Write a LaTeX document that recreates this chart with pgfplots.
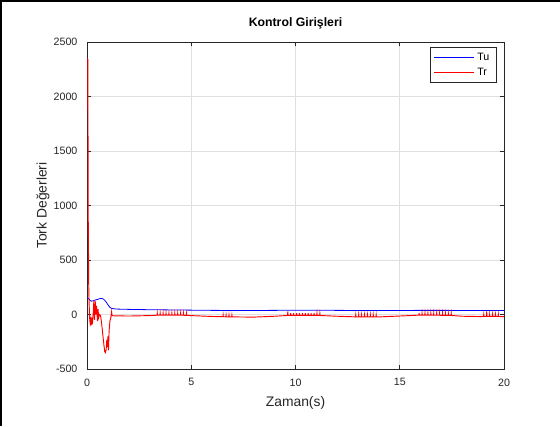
\documentclass[border=0pt]{standalone}
\usepackage{pgfplots}
\pgfplotsset{compat=1.18}
\pgfplotsset{legend image code/.code={\draw[mark repeat=2,mark phase=2,#1] (0pt,0pt) -- (30pt,0pt);}}
\usepackage{fontspec}
\setmainfont{Liberation Sans}
\definecolor{axgray}{HTML}{262626}
\definecolor{gridgray}{HTML}{DFDFDF}
\pgfplotsset{
  commonaxis/.style={at={(65.25pt,42.75pt)}, anchor=south west, scale only axis,
    width=312.75pt, height=245.25pt,
    xmin=0, xmax=20, ymin=-500, ymax=2500},
  commonlegend/.style={at={(0.983,0.8746)}, anchor=south east, line width=0.4pt,
    font=\fontsize{8}{9.6}\selectfont, inner xsep=3pt, inner ysep=2pt, row sep=0.5pt},
}
\begin{document}
\begin{tikzpicture}[x=1pt,y=1pt]
\path[use as bounding box, fill=white] (0,0) rectangle (420,319.5);
\draw[black, line width=1.2pt] (0.6,0) -- (0.6,318.9) -- (420,318.9);
\begin{axis}[commonaxis,
  xtick={0,5,10,15,20}, ytick={-500,0,500,1000,1500,2000,2500},
  grid=major, major grid style={gridgray, line width=0.4pt},
  axis line style={axgray, line width=0.4pt},
  tick style={axgray, line width=0.4pt},
  tick align=inside, major tick length=3pt,
  ticklabel style={font=\fontsize{8}{9.6}\selectfont, text=axgray},
  yticklabel style={anchor=east, inner sep=0pt, xshift=-7pt},
  xticklabel style={anchor=north, inner sep=0pt, yshift=-7pt},
  /pgf/number format/assume math mode=true,
  /pgf/number format/1000 sep={},
  scaled y ticks=false,
  xlabel={Zaman(s)}, ylabel={Tork Değerleri},
  label style={font=\fontsize{10.4}{12}\selectfont, text=axgray},
  xlabel style={at={(axis description cs:0.5,-0.104)}, anchor=center},
  ylabel style={at={(axis description cs:-0.1055,0.5)}, anchor=center},
  title={Kontrol Girişleri},
  title style={font=\bfseries\fontsize{9.2}{11}\selectfont, text=black,
    at={(axis description cs:0.5,1.034)}, anchor=center},
  legend style={commonlegend, draw=none, fill=white},
  legend cell align=left,
]
\addplot[draw=blue, line width=0.6pt] coordinates {
(0,150) (0.05,152) (0.1,140) (0.2,122) (0.3,126) (0.4,133) (0.5,138) (0.6,145) (0.7,148)
(0.8,140) (0.9,120) (1.0,90) (1.1,65) (1.2,55) (1.4,50) (2,47) (3,44) (4,42) (5,40) (6,38)
(7,37) (8,37) (9,38) (10,39) (11,39) (12,38) (13,37) (14,36) (15,37) (16,38) (17,38) (18,37)
(19,36) (20,36)
};
\addlegendentry{\makebox[9.5pt][l]{Tu}}
\addplot[draw=none, mark=none] coordinates {(0,0)};
\addlegendentry{\makebox[9.5pt][l]{\phantom{Tr}}}
\end{axis}
\begin{axis}[commonaxis, hide axis,
  legend style={commonlegend, draw=none, fill=none},
  legend cell align=left,
]
\addplot[draw=red, line width=0.7pt] coordinates {
(0,2350) (0.04,2340) (0.05,1600) (0.055,850) (0.06,680) (0.065,850) (0.07,700) (0.075,500)
(0.08,300) (0.09,200) (0.1,120) (0.11,60) (0.12,-20) (0.15,-80) (0.18,-40) (0.2,-100) (0.23,-30)
(0.26,-90) (0.3,20) (0.33,130) (0.36,-50) (0.4,120) (0.43,0) (0.46,80) (0.5,-60) (0.53,50)
(0.56,-30) (0.6,0) (0.65,-10) (0.7,-80) (0.75,-170) (0.8,-260) (0.85,-340) (0.88,-350)
(0.92,-320) (0.95,-230) (0.98,-300) (1.0,-200) (1.03,-330) (1.06,-150) (1.1,-60) (1.15,-20)
(1.18,25) (1.2,-10) (1.3,-12) (2,-14) (3,-10) (3.3,-7)
(3.36,-6) (3.37,12) (3.38,-6) (3.50,-6) (3.51,12) (3.52,-6) (3.64,-6) (3.65,12) (3.66,-6)
(3.78,-6) (3.79,12) (3.80,-6) (3.92,-6) (3.93,12) (3.94,-6) (4.06,-6) (4.07,12) (4.08,-6)
(4.20,-6) (4.21,12) (4.22,-6) (4.34,-6) (4.35,12) (4.36,-6) (4.48,-6) (4.49,12) (4.50,-6)
(4.62,-7) (4.63,11) (4.64,-7) (4.76,-8) (4.77,10) (4.78,-8)
(5,-10) (6,-18) (6.52,-20) (6.53,-4) (6.54,-20) (6.66,-21) (6.67,-5) (6.68,-21)
(6.80,-21) (6.81,-5) (6.82,-21) (6.94,-22) (6.95,-6) (6.96,-22)
(7,-22) (8,-24) (9,-16) (9.5,-10)
(9.62,-8) (9.63,28) (9.64,-8) (9.76,-8) (9.77,12) (9.78,-8) (9.90,-8) (9.91,12) (9.92,-8)
(10.04,-8) (10.05,12) (10.06,-8) (10.18,-8) (10.19,12) (10.20,-8) (10.32,-8) (10.33,12) (10.34,-8)
(10.46,-8) (10.47,12) (10.48,-8) (10.60,-8) (10.61,12) (10.62,-8) (10.74,-8) (10.75,12) (10.76,-8)
(10.88,-8) (10.89,12) (10.90,-8) (11.02,-8) (11.03,11) (11.04,-8) (11.16,-9) (11.17,10) (11.18,-9)
(12,-16) (12.8,-21)
(12.88,-21) (12.89,-3) (12.90,-21) (13.02,-21) (13.03,-3) (13.04,-21) (13.16,-22) (13.17,-4) (13.18,-22)
(13.30,-22) (13.31,-4) (13.32,-22) (13.44,-22) (13.45,-4) (13.46,-22) (13.58,-22) (13.59,-4) (13.60,-22)
(13.72,-22) (13.73,-4) (13.74,-22) (13.86,-22) (13.87,-4) (13.88,-22)
(14,-22) (15,-14) (15.8,-7)
(15.92,-6) (15.93,14) (15.94,-6) (16.06,-6) (16.07,13) (16.08,-6) (16.20,-6) (16.21,13) (16.22,-6)
(16.34,-6) (16.35,13) (16.36,-6) (16.48,-6) (16.49,13) (16.50,-6) (16.62,-7) (16.63,12) (16.64,-7)
(16.76,-7) (16.77,12) (16.78,-7) (16.90,-7) (16.91,12) (16.92,-7) (17.04,-8) (17.05,11) (17.06,-8)
(17.18,-8) (17.19,11) (17.20,-8) (17.32,-8) (17.33,10) (17.34,-8) (17.46,-9) (17.47,9) (17.48,-9)
(18,-16) (18.9,-19)
(19.02,-18) (19.03,0) (19.04,-18) (19.16,-18) (19.17,28) (19.18,-18) (19.30,-18) (19.31,0) (19.32,-18)
(19.44,-18) (19.45,0) (19.46,-18) (19.58,-18) (19.59,0) (19.60,-18) (19.72,-18) (19.73,0) (19.74,-18)
(20,-20)
};
\addlegendentry{\makebox[9.5pt][l]{Tr}}
\end{axis}
\begin{axis}[commonaxis, hide axis,
  legend style={commonlegend, draw=axgray, fill=none},
  legend cell align=left,
  legend image code/.code={\path[draw opacity=0, fill opacity=0, opacity=0] (0pt,0pt) -- (30pt,0pt);},
]
\addlegendimage{draw=none}
\addlegendentry{\makebox[9.5pt][l]{\phantom{Tu}}}
\addlegendimage{draw=none}
\addlegendentry{\makebox[9.5pt][l]{\phantom{Tr}}}
\end{axis}
\end{tikzpicture}
\end{document}
